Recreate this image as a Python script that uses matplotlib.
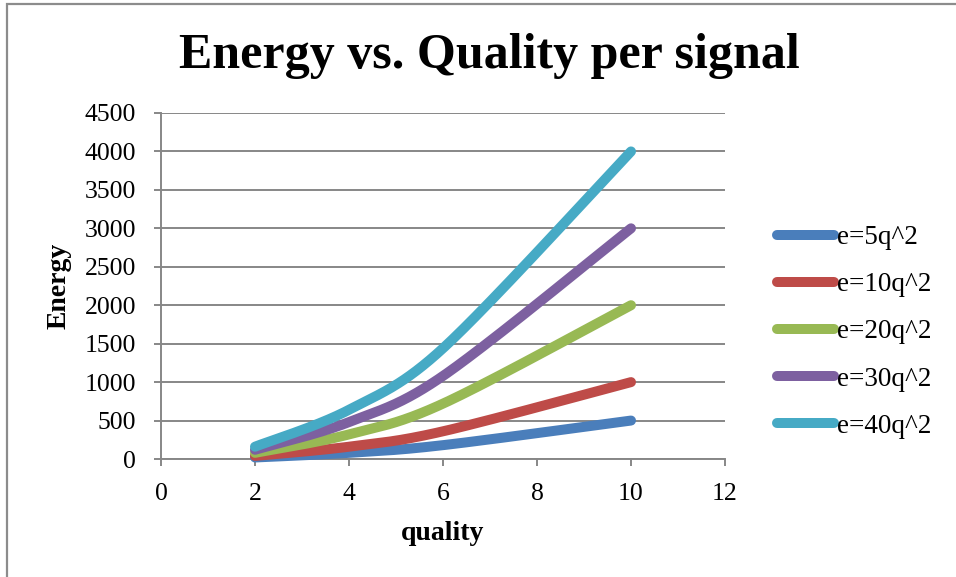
import numpy as np
import matplotlib
matplotlib.use("Agg")
import matplotlib.pyplot as plt
from matplotlib.patches import Rectangle

# Energy per signal for each quality level
quality = [2, 4, 6, 10]
e_5 = [20, 80, 180, 500]
e_10 = [40, 160, 360, 1000]
e_20 = [80, 320, 720, 2000]
e_30 = [120, 480, 1080, 3000]
e_40 = [160, 640, 1440, 4000]

series_labels = ["e=5q^2", "e=10q^2", "e=20q^2", "e=30q^2", "e=40q^2"]
series_values = [e_5, e_10, e_20, e_30, e_40]
series_colors = ["#4A7EBB", "#BE4B48", "#98B954", "#7D60A0", "#46AAC5"]

x_ticks = [0, 2, 4, 6, 8, 10, 12]
y_ticks = [0, 500, 1000, 1500, 2000, 2500, 3000, 3500, 4000, 4500]

W, H = 956, 577
AX_L, AX_R, AX_B, AX_T = 161, 725, 459, 113
X_MAX, Y_MAX = 12, 4500


def smooth(xs, ys, n=80):
    """Smoothed line: cubic Bezier segments with 1/6 tangent handles,
    each handle capped at half of its segment's on-screen length."""
    sx = (AX_R - AX_L) / X_MAX
    sy = (AX_B - AX_T) / Y_MAX
    p = np.column_stack([np.asarray(xs, float) * sx,
                         np.asarray(ys, float) * sy])
    m = len(p)
    seg_len = np.hypot(*np.diff(p, axis=0).T)
    back = np.zeros_like(p)
    fwd = np.zeros_like(p)
    for i in range(m):
        a = p[i - 1] if i > 0 else p[i]
        b = p[i + 1] if i + 1 < m else p[i]
        tvec = b - a
        tlen = np.hypot(*tvec)
        if tlen == 0:
            continue
        u = tvec / tlen
        arm = tlen / 6.0
        if i > 0:
            back[i] = -u * min(arm, seg_len[i - 1] / 2.0)
        if i + 1 < m:
            fwd[i] = u * min(arm, seg_len[i] / 2.0)
    out = []
    for i in range(m - 1):
        p0, p3 = p[i], p[i + 1]
        c1 = p0 + fwd[i]
        c2 = p3 + back[i + 1]
        t = np.linspace(0, 1, n)[:, None]
        seg = ((1 - t) ** 3) * p0 + 3 * ((1 - t) ** 2) * t * c1 \
            + 3 * (1 - t) * t ** 2 * c2 + t ** 3 * p3
        out.append(seg if i == 0 else seg[1:])
    pts = np.vstack(out)
    return pts[:, 0] / sx, pts[:, 1] / sy


fig = plt.figure(figsize=(W / 100, H / 100), dpi=100)
fig.patch.set_facecolor("white")

serif = ["Liberation Serif", "DejaVu Serif"]
grid_col = "#878787"

ax = fig.add_axes([AX_L / W, 1 - AX_B / H, (AX_R - AX_L) / W,
                   (AX_B - AX_T) / H])
ax.set_xlim(0, X_MAX)
ax.set_ylim(0, Y_MAX)
ax.set_xticks(x_ticks)
ax.set_yticks(y_ticks)
ax.yaxis.grid(True, color=grid_col, linewidth=1.4)
ax.set_axisbelow(True)
for s in ["top", "right"]:
    ax.spines[s].set_visible(False)
for s in ["left", "bottom"]:
    ax.spines[s].set_color(grid_col)
    ax.spines[s].set_linewidth(1.4)
ax.tick_params(axis="both", direction="out", length=5, width=1.4,
               color=grid_col, labelsize=18.5)
ax.tick_params(axis="y", pad=13)
ax.tick_params(axis="x", pad=12)
for lab in ax.get_xticklabels() + ax.get_yticklabels():
    lab.set_fontfamily(serif)

handles = []
for vals, lab, col in zip(series_values, series_labels, series_colors):
    cx, cy = smooth(quality, vals)
    ln, = ax.plot(cx, cy, color=col, linewidth=7.2, solid_capstyle="round",
                  solid_joinstyle="round", label=lab, clip_on=False,
                  zorder=3)
    handles.append(ln)

ax.set_xlabel("quality", fontsize=20, fontweight="bold", family=serif,
              labelpad=12)
ax.set_ylabel("Energy", fontsize=20, fontweight="bold", family=serif,
              labelpad=9)

fig.text(489 / W, 1 - 56 / H, "Energy vs. Quality per signal", ha="center",
         va="center", fontsize=36, fontweight="bold", family=serif)

fig.legend(handles=handles, labels=series_labels, loc="center left",
           bbox_to_anchor=(777 / W, 1 - 332 / H), frameon=False,
           prop={"family": serif, "size": 19.5}, handlelength=2.1,
           handletextpad=0.12, labelspacing=0.82, borderpad=0,
           borderaxespad=0)

# chart area border
fig.add_artist(Rectangle((6.5 / W, -0.05), 1.2, 1 - 3.5 / H + 0.05,
                         transform=fig.transFigure, fill=False,
                         edgecolor="#8c8c8c", linewidth=1.6))

fig.savefig("out.png", dpi=100, facecolor="white")
